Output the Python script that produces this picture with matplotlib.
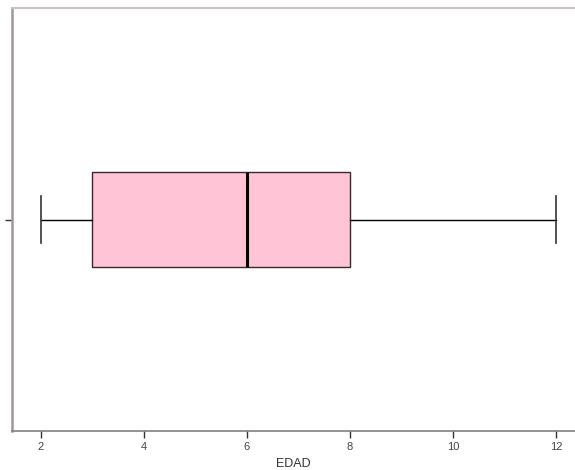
import matplotlib.pyplot as plt

# Summary of EDAD (min, Q1, median, Q3, max)
edad_min = 2
edad_q1 = 3
edad_med = 6
edad_q3 = 8
edad_max = 12
xticks = [2, 4, 6, 8, 10, 12]

plt.rcParams['font.family'] = ['Liberation Sans', 'DejaVu Sans']

fig = plt.figure(figsize=(5.75, 4.7), dpi=100)
ax = fig.add_axes([12 / 575, 1 - 431 / 470, 1 - 12 / 575, 423 / 470])

stats = [{'whislo': edad_min, 'q1': edad_q1, 'med': edad_med,
          'q3': edad_q3, 'whishi': edad_max, 'fliers': [], 'label': ''}]
ax.bxp(stats, positions=[0.5], widths=0.2246, vert=False, patch_artist=True,
       showfliers=False,
       boxprops=dict(facecolor='#ffc4d6', edgecolor='#3a2a2e', linewidth=1.0),
       medianprops=dict(color='black', linewidth=2.2),
       whiskerprops=dict(color='black', linewidth=1.0),
       capprops=dict(color='#333333', linewidth=1.2),
       capwidths=0.111)

ax.set_xlim(1.447, 12.37)
ax.set_ylim(0, 1)
ax.set_xticks(xticks)
ax.set_xticklabels([str(t) for t in xticks])
ax.set_yticks([0.5])
ax.set_yticklabels([''])
ax.tick_params(axis='both', direction='out', length=5, width=1.0,
               colors='#333333', labelsize=8, labelcolor='#444444')
ax.tick_params(axis='x', pad=3)

ax.spines['right'].set_visible(False)
ax.spines['left'].set_color('#a09898')
ax.spines['left'].set_linewidth(1.8)
ax.spines['bottom'].set_color('#808080')
ax.spines['bottom'].set_linewidth(1.2)
ax.spines['top'].set_color('#c8c0c4')
ax.spines['top'].set_linewidth(1.5)

ax.set_xlabel('EDAD', fontsize=9, color='#333333', labelpad=4)

fig.savefig('out.png', dpi=100)
